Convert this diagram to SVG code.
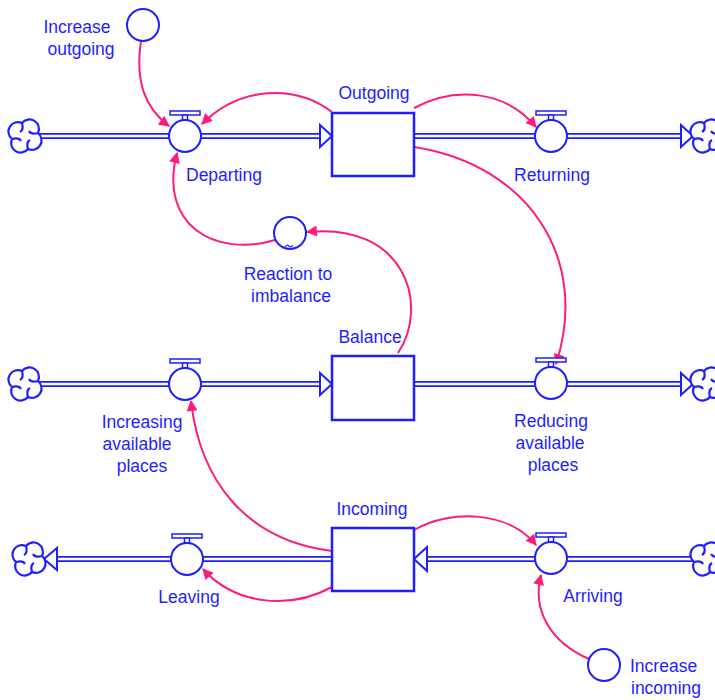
<svg xmlns="http://www.w3.org/2000/svg" xmlns:xlink="http://www.w3.org/1999/xlink" width="715" height="700" viewBox="0 0 715 700">
<style>
.t{font-family:"Liberation Sans",Arial,sans-serif;font-size:17.5px;fill:#1e1eff}
.m{text-anchor:middle}
.po{stroke:#1e1eff;stroke-width:6;fill:none}
.pi{stroke:#fff;stroke-width:2.4;fill:none}
.ah{fill:#fff;stroke:#1e1eff;stroke-width:2;stroke-linejoin:miter}
.stock{fill:#fff;stroke:#1e1eff;stroke-width:2.5}
.v{fill:#fff;stroke:#1e1eff;stroke-width:2}
.h{fill:#fff;stroke:#1e1eff;stroke-width:1.5}
.c{fill:none;stroke:#ff1a7d;stroke-width:2}
.cl{fill:#fff;stroke:#1e1eff;stroke-width:2.2}
</style>
<defs>
<marker id="arr" viewBox="0 0 10 10" refX="9" refY="5" markerWidth="14" markerHeight="11" markerUnits="userSpaceOnUse" orient="auto">
<path d="M0,0 L10,5 L0,10 z" fill="#ff1a7d"/>
</marker>
<g id="cloud">
<path class="cl" d="M-3,-13 A9.5 9.5 0 0 1 13,-3 A9.5 9.5 0 0 1 3,13 A9.5 9.5 0 0 1 -13,3 A9.5 9.5 0 0 1 -3,-13 Z"/>
<path class="cl" fill="none" d="M-3,-13 Q-1,-6 -5,-4 M13,-3 Q6,-1 4,-5 M3,13 Q1,6 5,4 M-13,3 Q-6,1 -4,5"/>
</g>
<g id="valve">
<rect x="-15" y="-25" width="30" height="4" class="h"/>
<rect x="-2.5" y="-21" width="5" height="5" class="h"/>
<circle r="16" class="v"/>
</g>
</defs>
<rect width="715" height="700" fill="#fff"/>

<g id="flows">
<path class="po" d="M39,136 H321 M414,136 H682"/>
<path class="pi" d="M39,136 H321 M414,136 H682"/>
<path class="ah" d="M320,125 L332,136 L320,147 Z"/>
<path class="ah" d="M681,125 L693,136 L681,147 Z"/>
<path class="po" d="M39,384 H321 M414,384 H682"/>
<path class="pi" d="M39,384 H321 M414,384 H682"/>
<path class="ah" d="M320,373 L332,384 L320,395 Z"/>
<path class="ah" d="M681,373 L693,384 L681,395 Z"/>
<path class="po" d="M56,559 H332 M426,559 H693"/>
<path class="pi" d="M56,559 H332 M426,559 H693"/>
<path class="ah" d="M57,548 L44,559 L57,570 Z"/>
<path class="ah" d="M427,547 L414,559 L427,571 Z"/>
</g>

<g id="clouds">
<use xlink:href="#cloud" x="25" y="136"/>
<use xlink:href="#cloud" x="707" y="136"/>
<use xlink:href="#cloud" x="25" y="384"/>
<use xlink:href="#cloud" x="707" y="384"/>
<use xlink:href="#cloud" x="29" y="559"/>
<use xlink:href="#cloud" x="707" y="559"/>
</g>

<g id="connectors">
<path class="c" marker-end="url(#arr)" d="M141,41 C135,82 145,108 169,126"/>
<path class="c" marker-end="url(#arr)" d="M332,112 C295,84 240,86 202,124"/>
<path class="c" marker-end="url(#arr)" d="M414,108 C455,86 505,90 536,127"/>
<path class="c" marker-end="url(#arr)" d="M414,147 C530,165 590,260 556,364"/>
<path class="c" marker-end="url(#arr)" d="M275,240 C215,258 158,225 177,153"/>
<path class="c" marker-end="url(#arr)" d="M398,353 C430,305 405,222 307,232"/>
<path class="c" marker-end="url(#arr)" d="M332,551 C245,540 200,480 191,401"/>
<path class="c" marker-end="url(#arr)" d="M332,587 C290,610 235,605 203,569"/>
<path class="c" marker-end="url(#arr)" d="M414,530 C452,508 510,512 536,545"/>
<path class="c" marker-end="url(#arr)" d="M589,659 C550,642 532,610 541,575"/>
</g>

<g id="outgoing">
<rect class="stock" x="332" y="113" width="82" height="63"/>
<text class="t m" x="374" y="99">Outgoing</text>
</g>
<g id="balance">
<rect class="stock" x="332" y="356" width="82" height="64"/>
<text class="t m" x="370" y="343">Balance</text>
</g>
<g id="incoming">
<rect class="stock" x="332" y="528" width="82" height="63"/>
<text class="t m" x="372" y="515">Incoming</text>
</g>

<g id="departing">
<use xlink:href="#valve" x="185" y="136"/>
<text class="t" x="186" y="181">Departing</text>
</g>
<g id="returning">
<use xlink:href="#valve" x="551" y="136"/>
<text class="t m" x="552" y="181">Returning</text>
</g>
<g id="increasing">
<use xlink:href="#valve" x="185" y="384"/>
<text class="t m" x="142" y="428">Increasing</text>
<text class="t m" x="137" y="450">available</text>
<text class="t m" x="142" y="472">places</text>
</g>
<g id="reducing">
<use xlink:href="#valve" x="551" y="383"/>
<text class="t m" x="551" y="427">Reducing</text>
<text class="t m" x="550" y="449">available</text>
<text class="t m" x="553" y="471">places</text>
</g>
<g id="leaving">
<use xlink:href="#valve" x="187" y="559"/>
<text class="t m" x="189" y="603">Leaving</text>
</g>
<g id="arriving">
<use xlink:href="#valve" x="551" y="558"/>
<text class="t m" x="593" y="602">Arriving</text>
</g>

<g id="increase-outgoing">
<circle class="v" cx="143" cy="25" r="16"/>
<text class="t m" x="77" y="33">Increase</text>
<text class="t m" x="81" y="55">outgoing</text>
</g>
<g id="reaction">
<circle class="v" cx="290" cy="233" r="16"/>
<path d="M285,247 q2,-3 4,-1 q2,2 4,-1" fill="none" stroke="#1e1eff" stroke-width="1.2"/>
<text class="t m" x="288" y="280">Reaction to</text>
<text class="t m" x="291" y="302">imbalance</text>
</g>
<g id="increase-incoming">
<circle class="v" cx="604" cy="665" r="16"/>
<text class="t" x="630" y="672">Increase</text>
<text class="t" x="631" y="694">incoming</text>
</g>
</svg>
